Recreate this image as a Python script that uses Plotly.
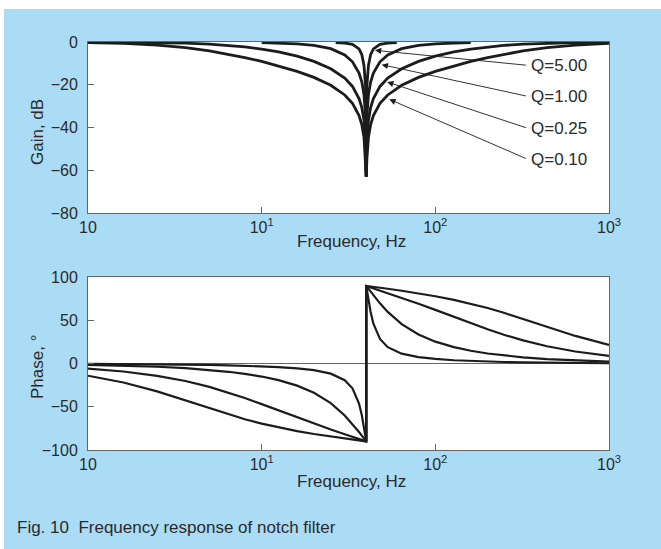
import math
import plotly.graph_objects as go

# ---------------- data ----------------
FREQ = [1.0, 1.6, 2.5, 3.64, 5.0, 6.45, 8.0, 10.0, 12.5, 16.0, 20.0, 25.0, 30.08, 33.33,
        36.36, 37.74, 38.83, 39.6, 40.0, 40.4, 41.2, 42.4, 44.0, 48.0, 53.2, 64.0, 80.0,
        100.0, 128.0, 160.0, 200.0, 248.0, 320.0, 440.0, 640.0, 1000.0]

GAIN_Q010 = [-0.26, -0.65, -1.44, -2.65, -4.17, -5.73, -7.27, -9.09, -11.14, -13.74, -16.57,
             -20.26, -24.77, -28.72, -34.38, -38.67, -44.56, -54.0, -63.0, -54.0, -44.56,
             -38.67, -34.38, -28.72, -24.77, -20.26, -16.57, -13.74, -11.14, -9.09, -7.27,
             -5.73, -4.17, -2.65, -1.44, -0.65]
GAIN_Q025 = [-0.04, -0.11, -0.27, -0.55, -1.00, -1.58, -2.29, -3.30, -4.65, -6.65, -9.09,
             -12.51, -16.89, -20.79, -26.43, -30.71, -36.60, -46.06, -63.0, -46.06, -36.60,
             -30.71, -26.43, -20.79, -16.89, -12.51, -9.09, -6.65, -4.65, -3.30, -2.29,
             -1.58, -1.00, -0.55, -0.27, -0.11]

FREQ_Q1 = [10.0, 12.5, 16.0, 20.0, 25.0, 30.08, 33.33, 36.36, 37.74, 38.83, 39.6, 40.0,
           40.4, 41.2, 42.4, 44.0, 48.0, 53.2, 64.0, 80.0, 100.0, 128.0, 160.0]
GAIN_Q1 = [-0.30, -0.49, -0.89, -1.60, -3.12, -6.01, -9.26, -14.54, -18.72, -24.58, -34.03,
           -63.0, -34.03, -24.58, -18.72, -14.54, -9.26, -6.01, -3.12, -1.60, -0.89, -0.49,
           -0.30]

FREQ_Q5 = [26.67, 30.08, 33.33, 36.36, 37.74, 38.83, 39.6, 40.0, 40.4, 41.2, 42.4, 44.0,
           48.0, 53.2, 60.0]
GAIN_Q5 = [-0.24, -0.49, -1.13, -3.22, -5.96, -10.95, -20.09, -63.0, -20.09, -10.95, -5.96,
           -3.22, -1.13, -0.49, -0.24]

PHASE_FREQ = [1.0, 1.6, 2.5, 3.64, 5.0, 6.45, 8.0, 10.0, 12.5, 16.0, 20.0, 25.0, 30.08, 33.33,
              36.36, 37.74, 38.83, 39.6, 40.0, 40.0, 40.4, 41.2, 42.4, 44.0, 48.0, 53.2, 64.0,
              80.0, 100.0, 128.0, 160.0, 200.0, 248.0, 320.0, 440.0, 640.0, 1000.0]
PHASE_Q010 = [-14.0, -21.8, -32.1, -42.5, -51.8, -58.9, -64.4, -69.4, -73.9, -78.1, -81.5,
              -84.4, -86.7, -87.9, -88.9, -89.33, -89.66, -89.9, -90.0, 90.0, 89.9, 89.66,
              89.33, 88.9, 87.9, 86.7, 84.4, 81.5, 78.1, 73.9, 69.4, 64.4, 58.9, 51.8, 42.5,
              32.1, 21.8]
PHASE_Q025 = [-5.72, -9.10, -14.09, -20.14, -26.93, -33.52, -39.81, -46.85, -54.17, -62.30,
              -69.44, -76.29, -81.78, -84.76, -87.27, -88.33, -89.15, -89.7, -90.0, 90.0,
              89.7, 89.15, 88.33, 87.27, 84.76, 81.78, 76.29, 69.44, 62.30, 54.17, 46.85,
              39.81, 33.52, 26.93, 20.14, 14.09, 9.10]
PHASE_Q1 = [-1.43, -2.29, -3.59, -5.24, -7.24, -9.41, -11.77, -14.93, -19.10, -25.46, -33.69,
            -45.72, -59.97, -69.86, -79.19, -83.35, -86.62, -88.86, -90.0, 90.0, 88.86, 86.62,
            83.35, 79.19, 69.86, 59.97, 45.72, 33.69, 25.46, 19.10, 14.93, 11.77, 9.41, 7.24,
            5.24, 3.59, 2.29]
PHASE_Q5 = [-0.29, -0.46, -0.72, -1.05, -1.46, -1.90, -2.39, -3.05, -3.96, -5.44, -7.59,
            -11.59, -19.09, -28.61, -46.33, -59.76, -73.53, -84.32, -90.0, 90.0, 84.32, 73.53,
            59.76, 46.33, 28.61, 19.09, 11.59, 7.59, 5.44, 3.96, 3.05, 2.39, 1.90, 1.46, 1.05,
            0.72, 0.46]

Q_LABELS = ["Q=5.00", "Q=1.00", "Q=0.25", "Q=0.10"]
ARROW_HEAD_F = [44.9, 49.1, 52.8, 54.3]        # Hz, where each arrow points
ARROW_HEAD_DB = [-3.9, -10.6, -18.7, -26.8]    # dB
LABEL_DB = [-10.9, -25.4, -40.3, -54.8]        # dB, label rows
X_TICKVALS = [1, 10, 100, 1000]
X_TICKTEXT = ["10", "10<sup>1</sup>", "10<sup>2</sup>", "10<sup>3</sup>"]

# ---------------- style ----------------
FONT = "Liberation Sans, Arial, Helvetica, sans-serif"
BLUE = "#aadcf6"
LINE = "#1c1c1c"
AXC = "#666666"
TXT = "#2a2a2a"
W, H = 661, 549
L, R, T, B = 88, 52, 42, 99
PW, PH = W - L - R, H - T - B


def xp(px):
    return (px - L) / PW


def yp(py):
    return (H - B - py) / PH


fig = go.Figure()
for f, g in [(FREQ, GAIN_Q010), (FREQ, GAIN_Q025), (FREQ_Q1, GAIN_Q1), (FREQ_Q5, GAIN_Q5)]:
    fig.add_trace(go.Scatter(x=f, y=g, mode="lines", xaxis="x", yaxis="y",
                             line=dict(color=LINE, width=2.8), hoverinfo="skip"))
for p in [PHASE_Q010, PHASE_Q025, PHASE_Q1, PHASE_Q5]:
    fig.add_trace(go.Scatter(x=PHASE_FREQ, y=p, mode="lines", xaxis="x2", yaxis="y2",
                             line=dict(color=LINE, width=2.2), hoverinfo="skip"))

axis_common = dict(showline=True, mirror=True, linecolor=AXC, linewidth=1, showgrid=False,
                   ticks="inside", ticklen=6, tickcolor=AXC, tickwidth=1, automargin=False,
                   tickfont=dict(family=FONT, size=16, color=TXT))
xcommon = dict(axis_common, type="log", range=[0, 3], tickvals=X_TICKVALS,
               ticktext=X_TICKTEXT, zeroline=False, ticklabelstandoff=0)
ycommon = dict(axis_common, ticklabelstandoff=6)

top_bottom = yp(213)
bot_top = yp(277.3)

fig.update_layout(
    template="none",
    width=W, height=H, showlegend=False, autosize=False,
    paper_bgcolor=BLUE, plot_bgcolor="white",
    margin=dict(l=L, r=R, t=T, b=B, pad=0, autoexpand=False),
    font=dict(family=FONT, color=TXT),
    xaxis=dict(xcommon, anchor="y", domain=[0, 1]),
    yaxis=dict(ycommon, anchor="x", domain=[top_bottom, 1], range=[-80, 0],
               tickvals=[-80, -60, -40, -20, 0], zeroline=False),
    xaxis2=dict(xcommon, anchor="y2", domain=[0, 1]),
    yaxis2=dict(ycommon, anchor="x2", domain=[0, bot_top], range=[-100, 100],
                tickvals=[-100, -50, 0, 50, 100], zeroline=True, zerolinecolor=AXC,
                zerolinewidth=1),
)

# white strips at top and left edge of the page
fig.add_shape(type="rect", xref="paper", yref="paper", x0=xp(-5), x1=xp(W + 5),
              y0=yp(9), y1=yp(-5), fillcolor="white", line_width=0, layer="below")
fig.add_shape(type="rect", xref="paper", yref="paper", x0=xp(-5), x1=xp(4),
              y0=yp(H + 5), y1=yp(-5), fillcolor="white", line_width=0, layer="below")

ann = []
for lab, hf, hdb, ldb in zip(Q_LABELS, ARROW_HEAD_F, ARROW_HEAD_DB, LABEL_DB):
    ann.append(dict(xref="x", yref="y", x=math.log10(hf), y=hdb, text="", showarrow=True,
                    axref="x", ayref="y", ax=2.530, ay=ldb, arrowhead=2, arrowsize=1.4,
                    arrowwidth=0.9, arrowcolor=LINE, standoff=0, startstandoff=0))
    ann.append(dict(xref="x", yref="y", x=2.537, y=ldb, text=lab, showarrow=False,
                    xanchor="left", yanchor="middle",
                    font=dict(family=FONT, size=17, color=TXT)))

ann += [
    dict(xref="paper", yref="paper", x=xp(351), y=yp(241), text="Frequency, Hz",
         xanchor="center", yanchor="middle",
         showarrow=False, font=dict(size=17, color=TXT, family=FONT)),
    dict(xref="paper", yref="paper", x=xp(351), y=yp(481.5), text="Frequency, Hz",
         xanchor="center", yanchor="middle",
         showarrow=False, font=dict(size=17, color=TXT, family=FONT)),
    dict(xref="paper", yref="paper", x=xp(37), y=yp(132), text="Gain, dB", textangle=-90,
         xanchor="center", yanchor="middle",
         showarrow=False, font=dict(size=17, color=TXT, family=FONT)),
    dict(xref="paper", yref="paper", x=xp(37), y=yp(367), text="Phase, °", textangle=-90,
         xanchor="center", yanchor="middle",
         showarrow=False, font=dict(size=17, color=TXT, family=FONT)),
    dict(xref="paper", yref="paper", x=xp(15), y=yp(527),
         text="Fig. 10  Frequency response of notch filter",
         xanchor="left", yanchor="middle", showarrow=False,
         font=dict(size=17, color=TXT, family=FONT)),
]
fig.update_layout(annotations=ann)

fig.write_html("out.html", config={"displayModeBar": False})

# remove the browser's default page margin so the figure sits at the window origin
with open("out.html", "r", encoding="utf-8") as fh:
    html = fh.read()
html = html.replace("<head>", "<head><style>html,body{margin:0;padding:0;}</style>", 1)
with open("out.html", "w", encoding="utf-8") as fh:
    fh.write(html)
